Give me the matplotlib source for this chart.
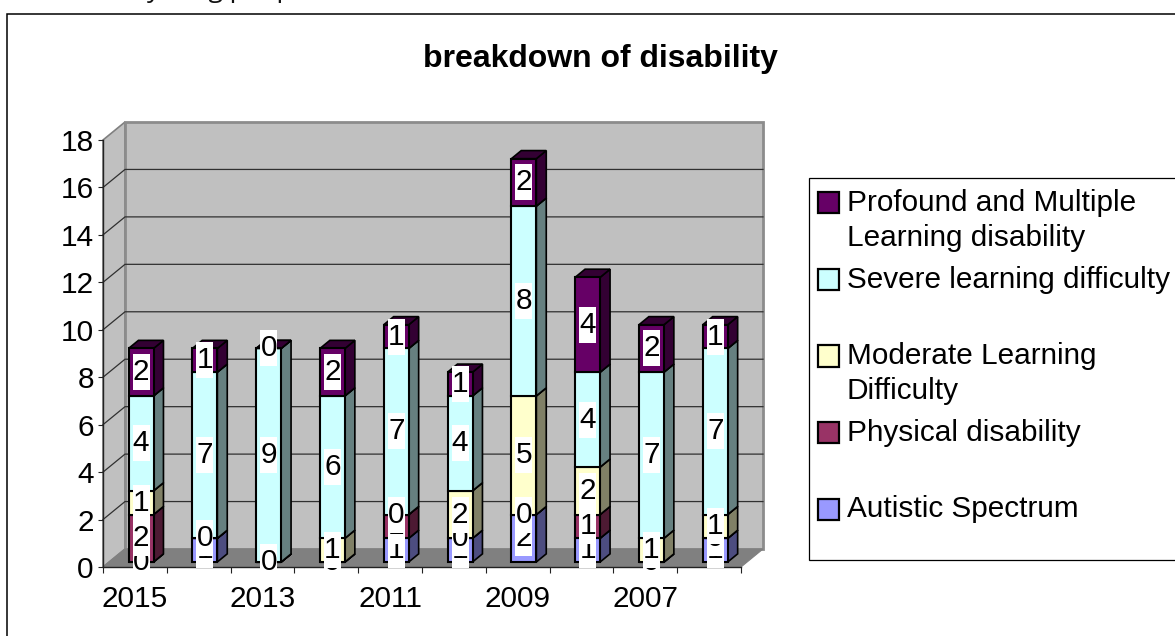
import matplotlib
matplotlib.use("Agg")
import matplotlib.pyplot as plt
from matplotlib.patches import Polygon, Rectangle

plt.rcParams['font.family'] = ['Liberation Sans', 'DejaVu Sans']

years = ['2015', '2014', '2013', '2012', '2011', '2010', '2009', '2008', '2007', '2006']
autistic = [0, 1, 0, 0, 1, 1, 2, 1, 0, 1]
physical = [2, 0, 0, 0, 1, 0, 0, 1, 0, 0]
moderate = [1, 0, 0, 1, 0, 2, 5, 2, 1, 1]
severe = [4, 7, 9, 6, 7, 4, 8, 4, 7, 7]
profound = [2, 1, 0, 2, 1, 1, 2, 4, 2, 1]

series = [autistic, physical, moderate, severe, profound]
names = ['Autistic Spectrum', 'Physical disability', 'Moderate Learning\nDifficulty',
         'Severe learning difficulty', 'Profound and Multiple\nLearning disability']
front = ['#9999FF', '#993366', '#FFFFCC', '#CCFFFF', '#660066']
side = ['#4D4D80', '#4D1A33', '#808066', '#668080', '#330033']

W, H = 1175, 636
FS = 21.4
fig = plt.figure(figsize=(W / 100, H / 100), dpi=100, facecolor='white')

# outer chart frame (runs off the right and bottom of the crop)
fig.add_artist(Rectangle((7 / W, -0.05), 1.1, (H - 14) / H + 0.05, transform=fig.transFigure,
                         fc='white', ec='black', lw=1.1, zorder=-2))
# legend frame
fig.add_artist(Rectangle((809 / W, (H - 560) / H), 1.0, 382 / H, transform=fig.transFigure,
                         fc='white', ec='black', lw=0.9, zorder=-1))

# fragment of the caption cut off by the crop
fig.text(147 / W, (H + 3) / H, 'young people', family='Open Sans', fontsize=19,
         ha='left', va='baseline', color='#111111')

ax = fig.add_axes([103 / W, (H - 567) / H, 638 / W, 427 / H])
ax.patch.set_visible(False)
ax.set_xlim(-0.5, 9.5)
ax.set_ylim(0, 18)

PX_X = 638 / 10
PX_Y = 427 / 18
DX = 22 / PX_X
DY = 18 / PX_Y


def proj(x, v, d=0.0):
    return (x + d * DX, v + d * DY)


x0, x1 = -0.5, 9.5
ax.add_patch(Polygon([proj(x0, 0), proj(x0, 18), proj(x0, 18, 1), proj(x0, 0, 1)], closed=True,
                     fc='#C0C0C0', ec='#808080', lw=1.2, zorder=1, clip_on=False))
ax.add_patch(Polygon([proj(x0, 0, 1), proj(x0, 18, 1), proj(x1, 18, 1), proj(x1, 0, 1)], closed=True,
                     fc='#C0C0C0', ec='#8C8C8C', lw=2, zorder=1, clip_on=False))
ax.add_patch(Polygon([proj(x0, 0), proj(x0, 0, 1), proj(x1, 0, 1), proj(x1, 0)], closed=True,
                     fc='#808080', ec='#808080', lw=0.8, zorder=1.1, clip_on=False))
for v in range(2, 18, 2):
    a, b, c = proj(x0, v), proj(x0, v, 1), proj(x1, v, 1)
    ax.plot([a[0], b[0], c[0]], [a[1], b[1], c[1]], color='#303030', lw=0.9, zorder=1.2, clip_on=False)

# bars
BW = 25 / PX_X
Z0, Z1 = 0.28, 0.73
z = 2.0
for i in range(len(years)):
    base = 0
    for s, vals in enumerate(series):
        top = base + vals[i]
        l, r = i - BW / 2, i + BW / 2
        sd = Polygon([proj(r, base, Z0), proj(r, top, Z0), proj(r, top, Z1), proj(r, base, Z1)], closed=True,
                     fc=side[s], ec='black', lw=1.2, zorder=z, clip_on=False, joinstyle='miter')
        tp = Polygon([proj(l, top, Z0), proj(r, top, Z0), proj(r, top, Z1), proj(l, top, Z1)], closed=True,
                     fc=side[s], ec='black', lw=1.2, zorder=z, clip_on=False, joinstyle='miter')
        fr = Polygon([proj(l, base, Z0), proj(r, base, Z0), proj(r, top, Z0), proj(l, top, Z0)], closed=True,
                     fc=front[s], ec='black', lw=1.5, zorder=z + 0.01, clip_on=False, joinstyle='miter')
        ax.add_patch(sd)
        ax.add_patch(tp)
        ax.add_patch(fr)
        z += 0.02
        base = top

# data labels, one series after the other
BOXW = 17 / PX_X
BOXH = 36 / PX_Y
z = 10.0
for s, vals in enumerate(series):
    for i, val in enumerate(vals):
        base = sum(series[k][i] for k in range(s))
        cx, cy = proj(i, base + val / 2, Z0)
        ax.add_patch(Rectangle((cx - BOXW / 2, cy - BOXH / 2), BOXW, BOXH, fc='white', ec='none',
                               zorder=z, clip_on=False))
        ax.text(cx, cy, str(val), ha='center', va='center', fontsize=FS, color='black',
                zorder=z + 0.001, clip_on=False)
        z += 0.01

# axes
for k in ('top', 'right'):
    ax.spines[k].set_visible(False)
for k in ('left', 'bottom'):
    ax.spines[k].set_color('#222222')
    ax.spines[k].set_linewidth(1.0)
    ax.spines[k].set_zorder(1.5)
ax.set_yticks(range(0, 19, 2))
ax.tick_params(axis='y', length=3.6, width=0.8, labelsize=FS, pad=3, color='#222222')
ax.set_xticks(range(len(years)), [y if i % 2 == 0 else '' for i, y in enumerate(years)])
ax.set_xticks([b - 0.5 for b in range(len(years) + 1)], minor=True)
ax.tick_params(axis='x', which='major', length=0, labelsize=FS, pad=13)
ax.tick_params(axis='x', which='minor', length=4, width=0.8, color='#222222')

fig.text(600 / W, (H - 59) / H, 'breakdown of disability', ha='center', va='center',
         fontsize=23, fontweight='bold', color='black')

# legend: same order as the reference, each row two lines tall
handles = [Rectangle((0, 0), 1, 1, fc=front[s], ec='black', lw=1.6) for s in range(4, -1, -1)]
labels = [names[s] if '\n' in names[s] else names[s] + '\n ' for s in range(4, -1, -1)]
leg = fig.legend(handles, labels, loc='upper left', bbox_to_anchor=(818 / W, (H - 189) / H),
                 bbox_transform=fig.transFigure, frameon=False, fontsize=FS, borderpad=0, borderaxespad=0,
                 handlelength=0.72, handleheight=0.72, handletextpad=0.25, labelspacing=0.47,
                 alignment='left')
leg.set_zorder(20)
for t in leg.get_texts():
    t.set_linespacing(1.3)
for h in leg.legend_handles:
    h.set_y(h.get_y() + 13)

fig.savefig('out.png', dpi=100, facecolor='white')
